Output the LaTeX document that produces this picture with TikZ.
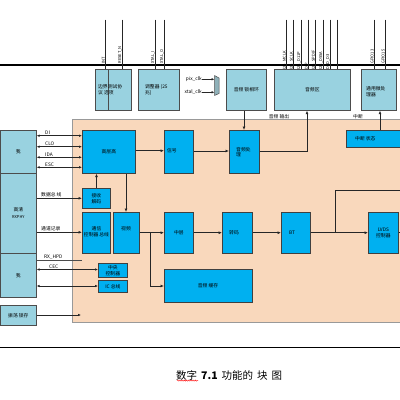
\documentclass[tikz,border=0pt]{standalone}
\usepackage{fontspec}
\setmainfont{Noto Sans CJK SC}
\usetikzlibrary{arrows.meta,decorations.pathmorphing}
\definecolor{lb}{RGB}{153,210,224}
\definecolor{cy}{RGB}{0,176,240}
\definecolor{peach}{RGB}{249,216,188}
\begin{document}
\begin{tikzpicture}[x=1pt,y=-1pt,
 lbox/.style={draw=black!70,fill=lb,line width=0.7pt,anchor=north west,inner sep=0pt},
 cbox/.style={draw=black!75,fill=cy,line width=0.7pt,anchor=north west,inner sep=0pt},
 txt/.style={font=\fontsize{4.8}{5.8}\selectfont,align=left,inner sep=0pt},
 ctxt/.style={font=\fontsize{4.8}{5.8}\selectfont,align=center,inner sep=0pt},
 pin/.style={font=\fontsize{4}{4.2}\selectfont,rotate=90,anchor=south west,inner sep=0.3pt},
 pinline/.style={line width=0.6pt,black!85},
 ar/.style={line width=0.9pt,black!85,-{Latex[length=3.5pt,width=3pt]}},
 ln/.style={line width=0.9pt,black!85},
 dar/.style={line width=0.6pt,black!85,{Latex[length=2.8pt,width=2.4pt]}-{Latex[length=2.8pt,width=2.4pt]}},
 sar/.style={line width=0.6pt,black!85,-{Latex[length=2.8pt,width=2.4pt]}}]
\useasboundingbox (0,0) rectangle (400,400);
\fill[white] (0,0) rectangle (400,400);
% rails
\draw[line width=1.2pt] (0,65) -- (400,65);
\draw[line width=1pt] (0,347.5) -- (400,347.5);
% peach region
\node[draw=black!40,fill=peach,line width=0.6pt,anchor=north west,inner sep=0pt,minimum width=334pt,minimum height=203pt] (peach) at (72,119) {};
% top boxes
\node[lbox,minimum width=36pt,minimum height=41pt] (A) at (95,69) {};
\draw[line width=0.6pt,black!70] (A.north) ++(-5,0) coordinate (ad1) -- (ad1 |- A.south);
\node[txt,anchor=west] (At) at (98,90) {边界测试协\\议 选项};
\node[lbox,minimum width=41pt,minimum height=41pt] (B) at (138,69) {};
\node[txt,anchor=west] (Bt) at (145,90) {调整器 (25\\兆)};
\node[lbox,minimum width=40pt,minimum height=41pt] (C) at (226,69) {};
\node[ctxt] (Ct) at (C.center) {音频 锁相环};
\node[lbox,minimum width=76pt,minimum height=41pt] (D) at (274,69) {};
\node[ctxt] (Dt) at (D.center) {音频区};
\node[lbox,minimum width=35pt,minimum height=41pt] (E) at (361,69) {};
\node[txt,anchor=west] (Et) at (366,92) {通用微处\\理器};
% pins
\foreach \x/\l/\y in {105/INT/64,122/RESET\_N/64,155/XTAL\_I/64,164/XTAL\_O/64,
  286.7/I2S\_MCLK/70,293.7/I2S\_SCLK/70,301/I2S\_D11P/70,308/DIP/70,315.7/I2S\_SPDIF/70,323/I2S\_DSSA/70,330/DSD\_D3/70,374/GPIO13/64,385/GPIO15/64}{
  \draw[pinline] (\x,19.5) -- (\x,69);
  \node[pin] at (\x+0.3,\y) {\l};
}
\draw[pinline] (337.7,19.5) -- (337.7,69);
% clock mux
\draw[fill=lb!60!gray,draw=black!70,line width=0.5pt] (214.5,75.5) -- (219,78) -- (219,93.5) -- (214.5,95.5) -- cycle;
\coordinate (mx1) at (214.5,79.3);
\coordinate (mx2) at (214.5,92.3);
\node[txt,anchor=east] (pix) at (202,79.3) {pix\_clk};
\node[txt,anchor=east] (xtal) at (202,92.3) {xtal\_clk};
\draw[sar] (pix.east) -- (mx1);
\draw[sar] (xtal.east) -- (mx2);
% left boxes
\node[lbox,minimum width=36pt,minimum height=43pt] (L1) at (0,130) {};
\node[ctxt] at (L1.center) {我};
\node[lbox,minimum width=36pt,minimum height=80pt] (L2) at (0,173) {};
\node[ctxt] at (L2.center) {高清\\[1pt]\fontsize{4}{4.2}\selectfont RXPHY};
\node[lbox,minimum width=36pt,minimum height=44pt] (L3) at (0,253) {};
\node[ctxt] at (L3.center) {我};
\node[lbox,minimum width=36pt,minimum height=20pt] (L4) at (0,305) {};
\node[ctxt] at (L4.center) {振荡 锁存};
% internal boxes
\node[cbox,minimum width=53pt,minimum height=43pt] (H) at (82,130) {};
\node[ctxt] at (H.center) {高层高};
\node[cbox,minimum width=29pt,minimum height=43pt] (J) at (164,130) {};
\node[txt,anchor=west] at (167,151) {信号};
\node[cbox,minimum width=30pt,minimum height=43pt] (P) at (229,130) {};
\node[txt,anchor=west] at (236,152) {音频处\\理};
\node[cbox,minimum width=60pt,minimum height=17pt] (S) at (346,130) {};
\node[txt,anchor=west] at (355,138.5) {中断 状态};
\node[cbox,minimum width=28pt,minimum height=20pt] (R) at (82,188) {};
\node[ctxt] at (R.center) {接收\\解码};
\node[cbox,minimum width=28pt,minimum height=41pt] (T) at (82,212) {};
\node[ctxt] at (96.5,232) {通信\\控制器 总线};
\node[cbox,minimum width=26pt,minimum height=41pt] (V) at (113,212) {};
\node[ctxt] at (126,229) {视频};
\node[cbox,minimum width=29pt,minimum height=41pt] (M) at (164,212) {};
\node[ctxt] at (M.center) {中层};
\node[cbox,minimum width=30pt,minimum height=41pt] (Z) at (222,212) {};
\node[txt,anchor=west] at (229,232.7) {转码};
\node[cbox,minimum width=29pt,minimum height=41pt] (BT) at (281,212) {};
\node[txt,anchor=west] at (289,232.7) {BT};
\node[cbox,minimum width=30pt,minimum height=41pt] (LV) at (368,212) {};
\node[ctxt] at (LV.center) {LVDS\\控制器};
\node[cbox,minimum width=88pt,minimum height=33pt] (AC) at (164,269) {};
\node[ctxt] at (208,285.5) {音频 缓存};
\node[cbox,minimum width=29pt,minimum height=14pt] (CC) at (98,263) {};
\node[ctxt] at (CC.center) {中央\\控制器};
\node[cbox,minimum width=29pt,minimum height=12pt] (IC) at (98,280) {};
\node[ctxt] at (IC.center) {IC 总线};
% left connectors
\foreach \y/\l in {135.7/DI,146.7/CLO,157.3/IDA,167.3/ESC}{
  \draw[dar] (L1.east |- 0,\y) -- (H.west |- 0,\y);
  \node[txt,anchor=south west] at (45,\y-0.6) {\l};
}
\draw[ar] (L2.east |- 0,198.3) -- (R.west |- 0,198.3);
\node[txt,anchor=south west] at (41,197) {数据总 线};
\draw[ar] (L2.east |- 0,232.3) -- (T.west |- 0,232.3);
\node[txt,anchor=south west] at (41,231) {通道记录};
\draw[line width=0.5pt,black!70] (L3.east |- 0,260.7) -- (T.south west |- 0,260.7);
\node[txt,anchor=south west] at (44,259.7) {RX\_HPD};
\draw[dar] (L3.east |- 0,269.5) -- (CC.west |- 0,269.5);
\node[txt,anchor=south west] at (49,268.5) {CEC};
\draw[dar] (L3.east |- 0,286) -- (IC.west |- 0,286);
\coordinate (l4end) at (81,315);
\draw[sar] (L4.east |- 0,315) -- (l4end);
% internal connectors
\draw[ar] (R.north -| 96.5,0) -- (H.south -| 96.5,0);
\draw[ar] (H.east |- 0,150.7) -- (J.west |- 0,150.7);
\draw[ar] (J.east |- 0,151) -- (P.west |- 0,151);
\draw[ar] (C.south -| 244,0) -- (P.north -| 244,0);
\draw[ar] (P.east |- 0,151) -- (307,151) -- (D.south -| 307,0);
\node[txt] at (279,117) {音频 输出};
\draw[ar] (S.north -| 380,0) -- (E.south -| 380,0);
\node[txt] at (358,117) {中断};
\draw[ar] (H.south -| 126,0) -- (V.north -| 126,0);
\draw[ar] (V.east |- 0,232.7) -- (M.west |- 0,232.7);
\draw[ar] (150,232.7) -- (150,286) -- (AC.west |- 0,286);
\draw[ar] (M.east |- 0,232.7) -- (Z.west |- 0,232.7);
\draw[ar] (Z.east |- 0,232.7) -- (BT.west |- 0,232.7);
\draw[ar] (BT.east |- 0,232.7) -- (LV.west |- 0,232.7);
\draw[ln] (335,232.7) -- (335,190) -- (peach.east |- 0,190);
\draw[ln] (LV.east |- 0,232.7) -- (peach.east |- 0,232.7);
% caption
\node[font=\fontsize{10.5}{12}\selectfont,anchor=west,inner sep=0pt] (cap) at (176,375) {数字\hspace{4pt}\textbf{7.1}\hspace{4pt}功能的\hspace{4pt}块\hspace{4pt}图};
\draw[red,line width=0.4pt,decorate,decoration={snake,amplitude=0.6pt,segment length=2.2pt}] (cap.south west) ++(1,0.5) -- ++(21,0);
\end{tikzpicture}
\end{document}
